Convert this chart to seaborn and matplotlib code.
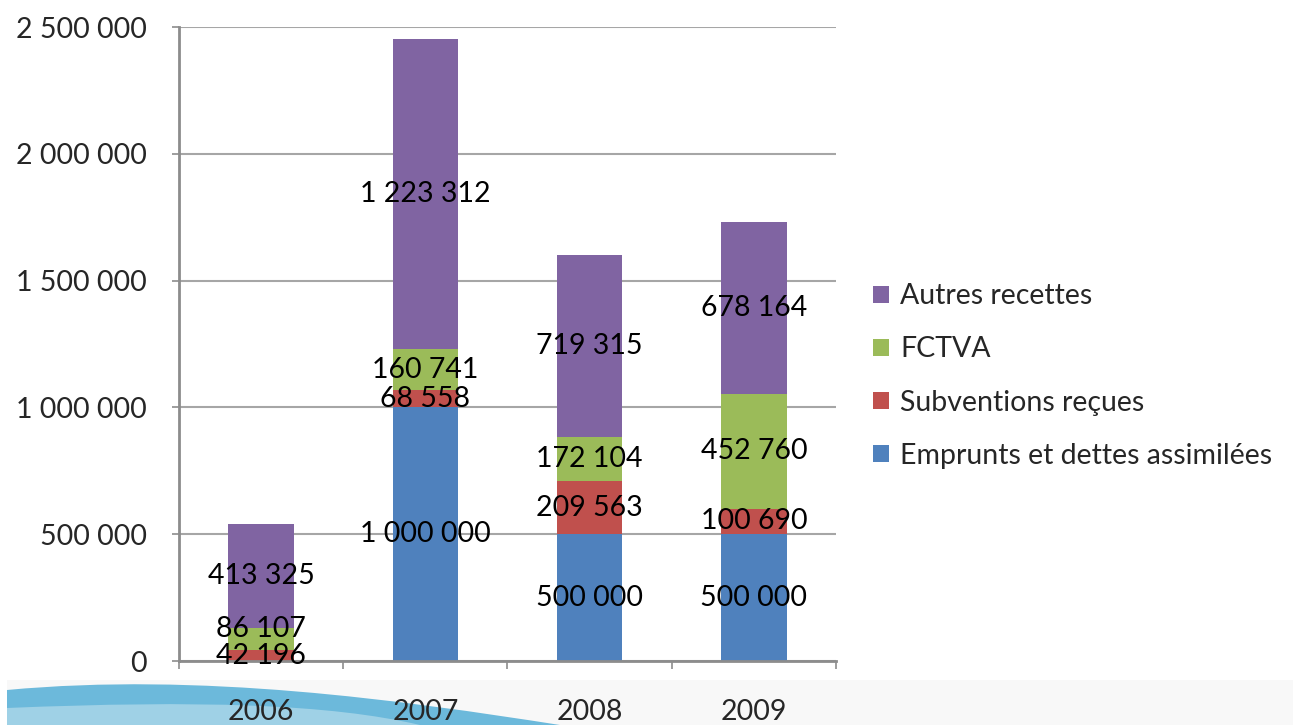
import numpy as np
import pandas as pd
import matplotlib
matplotlib.use("Agg")
import matplotlib.pyplot as plt
import seaborn as sns
from matplotlib.patches import PathPatch, Rectangle, Patch
from matplotlib.path import Path
from matplotlib.ticker import FixedLocator, FuncFormatter

# ---------------- data ----------------
years = ["2006", "2007", "2008", "2009"]
emprunts = [0, 1000000, 500000, 500000]
subventions = [42196, 68558, 209563, 100690]
fctva = [86107, 160741, 172104, 452760]
autres = [413325, 1223312, 719315, 678164]
series_names = ["Emprunts et dettes assimilées", "Subventions reçues", "FCTVA", "Autres recettes"]
series_values = [emprunts, subventions, fctva, autres]
colors = ["#4f81bd", "#c0504d", "#9bbb59", "#8064a2"]
yticks = [0, 500000, 1000000, 1500000, 2000000, 2500000]

sns.set_theme(style="white")
plt.rcParams['font.family'] = ['Lato', 'DejaVu Sans']

W, H = 1293, 725
fig = plt.figure(figsize=(W / 100, H / 100), dpi=100)
fig.patch.set_facecolor("white")

def fx(x):
    return x / W

def fy(y):
    return 1 - y / H

# decorative footer background and wave
fig.patches.append(Rectangle((fx(7), fy(725)), fx(1293 - 7), fy(680) - fy(725),
                             transform=fig.transFigure, facecolor="#f8f8f8",
                             edgecolor="none", zorder=-3))
dark = Path([(fx(7), fy(690)), (fx(200), fy(672)), (fx(400), fy(700)), (fx(560), fy(725)),
             (fx(7), fy(725)), (fx(7), fy(690))],
            [Path.MOVETO, Path.CURVE4, Path.CURVE4, Path.CURVE4, Path.LINETO, Path.CLOSEPOLY])
fig.patches.append(PathPatch(dark, transform=fig.transFigure, facecolor="#6cb9db",
                             edgecolor="none", zorder=-2))
light = Path([(fx(7), fy(708)), (fx(200), fy(700)), (fx(330), fy(704)), (fx(420), fy(725)),
              (fx(7), fy(725)), (fx(7), fy(708))],
             [Path.MOVETO, Path.CURVE4, Path.CURVE4, Path.CURVE4, Path.LINETO, Path.CLOSEPOLY])
fig.patches.append(PathPatch(light, transform=fig.transFigure, facecolor="#9fd1e6",
                             edgecolor="none", zorder=-1))

ax = fig.add_axes([fx(179), fy(661), fx(836 - 179), fy(27) - fy(661)])
ax.set_facecolor("none")

# cumulative stacks
cum = np.cumsum(np.array(series_values, dtype=float), axis=0)
for i in reversed(range(len(series_names))):
    df = pd.DataFrame({"year": years, "value": cum[i]})
    sns.barplot(data=df, x="year", y="value", color=colors[i], width=0.4,
                saturation=1, errorbar=None, ax=ax, zorder=3, linewidth=0,
                edgecolor="none")

fs = 20.5
ymax = 2500000
min_sep = ymax * 27 / 634  # minimal spacing between stacked labels (avoid overlap)
# data labels
for j in range(len(years)):
    bottom = 0.0
    prev = None
    for i in range(len(series_names)):
        v = series_values[i][j]
        if v > 0:
            yy = bottom + v / 2
            if prev is not None and yy - prev < min_sep:
                yy = prev + min_sep
            ax.text(j, yy, f"{v:,}".replace(",", " "), ha="center", va="center",
                    fontsize=fs, color="black", zorder=5)
            prev = yy
        bottom += v

ax.set_xlim(-0.5, 3.5)
ax.set_ylim(0, ymax)
ax.yaxis.set_major_locator(FixedLocator(yticks))
ax.yaxis.set_major_formatter(FuncFormatter(lambda v, p: f"{int(v):,}".replace(",", " ")))
ax.grid(axis="y", color="#a6a6a6", linewidth=1.5, zorder=0)
ax.set_axisbelow(True)
ax.set_xlabel("")
ax.set_ylabel("")

for s in ["top", "right"]:
    ax.spines[s].set_visible(False)
for s in ["left", "bottom"]:
    ax.spines[s].set_color("#8c8c8c")
    ax.spines[s].set_linewidth(2)
    ax.spines[s].set_zorder(4)

ax.tick_params(axis="y", which="major", length=5, width=1.2, color="#8c8c8c",
               labelsize=fs, pad=18, left=True)
ax.tick_params(axis="x", which="major", length=0, labelsize=fs, pad=27)
ax.xaxis.set_minor_locator(FixedLocator([-0.5, 0.5, 1.5, 2.5, 3.5]))
ax.tick_params(axis="x", which="minor", length=6, width=1.2, color="#8c8c8c", bottom=True)

handles = [Patch(facecolor=colors[i], edgecolor="none") for i in reversed(range(4))]
labels = [series_names[i] for i in reversed(range(4))]
ax.legend(handles, labels, loc="center left", bbox_to_anchor=(fx(862), fy(376)),
          bbox_transform=fig.transFigure, frameon=False, fontsize=fs,
          handlelength=0.55, handleheight=0.55, handletextpad=0.4,
          labelspacing=0.95, borderaxespad=0)

fig.savefig("out.png", dpi=100)
